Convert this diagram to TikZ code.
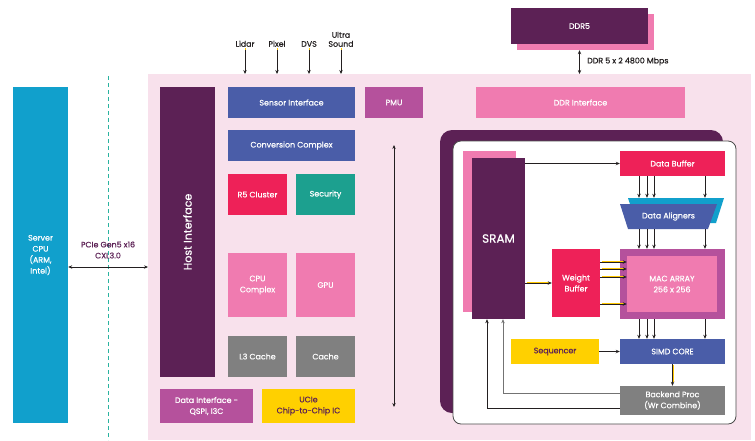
\documentclass[tikz,border=0pt]{standalone}
\usepackage{fontspec}
\setmainfont{Poppins}[FakeBold=0.6]
\usetikzlibrary{arrows.meta,calc}
\definecolor{dpurple}{HTML}{5C2155}
\definecolor{cblue}{HTML}{4A5DA8}
\definecolor{cred}{HTML}{EE2158}
\definecolor{cteal}{HTML}{1CA08F}
\definecolor{cpink}{HTML}{F07BB0}
\definecolor{cmag}{HTML}{B5519C}
\definecolor{cgray}{HTML}{808080}
\definecolor{cyellow}{HTML}{FFD000}
\definecolor{ccyan}{HTML}{11A0CC}
\definecolor{bgpink}{HTML}{F8E1EC}
\definecolor{dteal}{HTML}{2AB3A0}
\definecolor{ink}{HTML}{231F20}
\begin{document}
\begin{tikzpicture}[x=1pt,y=-1pt,
  font=\fontsize{7.9}{11}\selectfont,
  box/.style={rectangle, inner sep=1pt, align=center, text=white, anchor=center},
  lbl/.style={inner sep=1pt, align=center, text=ink},
  glow/.style={preaction={draw=cyellow!90!orange, line width=0.5pt, -, shorten >=3pt, shorten <=1pt, transform canvas={xshift=0.7pt,yshift=0.7pt}}},
  arr/.style={-{Stealth[length=4pt,width=3.4pt]}, line width=0.8pt, draw=ink, glow},
  darr/.style={{Stealth[length=4pt,width=3.4pt]}-{Stealth[length=4pt,width=3.4pt]}, line width=0.8pt, draw=ink}]
\useasboundingbox (0,0) rectangle (755,440);
% chip background
\node[fill=bgpink, minimum width=603pt, minimum height=366pt, inner sep=0, anchor=north west] (chip) at (148,74) {};
% dashed line
\coordinate (dla) at (108,76);
\coordinate (dlb) at (108,440);
\draw[dteal, line width=1pt, dash pattern=on 4pt off 3pt] (dla) -- (dlb);
% server cpu
\node[box, fill=ccyan, minimum width=55pt, minimum height=336pt] (cpu) at (40.5,255) {Server\\CPU\\(ARM,\\Intel)};
\node[lbl, text=dpurple] (pcie) at (108,250) {PCIe Gen5 x16\\CXL3.0};
\coordinate (py) at (0,267);
\draw[darr] (cpu.east |- py) -- (chip.west |- py);
% host interface
\node[box, fill=dpurple, minimum width=55pt, minimum height=290pt] (host) at (187.5,232) {};
\node[text=white, rotate=90, font=\fontsize{11}{13}\selectfont] (hostt) at (host.center) {Host Interface};
% left column blocks
\node[box, fill=cblue, minimum width=127pt, minimum height=31pt] (si) at (291.5,102.5) {Sensor Interface};
\node[box, fill=cblue, minimum width=127pt, minimum height=31pt] (cc) at (291.5,145.5) {Conversion Complex};
\node[box, fill=cred, minimum width=59pt, minimum height=41pt] (r5) at (257.5,194.5) {R5 Cluster};
\node[box, fill=cteal, minimum width=59pt, minimum height=41pt] (sec) at (325.5,194.5) {Security};
\node[box, fill=cpink, minimum width=59pt, minimum height=64pt] (cpuc) at (257.5,285) {CPU\\Complex};
\node[box, fill=cpink, minimum width=59pt, minimum height=64pt] (gpu) at (325.5,285) {GPU};
\node[box, fill=cgray, minimum width=59pt, minimum height=41pt] (l3) at (257.5,356.5) {L3 Cache};
\node[box, fill=cgray, minimum width=59pt, minimum height=41pt] (cache) at (325.5,356.5) {Cache};
\node[box, fill=cmag, minimum width=93pt, minimum height=34pt] (di) at (206.5,406) {Data Interface -\\QSPI, I3C};
\node[box, fill=cyellow, text=dpurple, minimum width=93pt, minimum height=34pt] (ucie) at (308.5,406) {UCIe\\Chip-to-Chip IC};
\node[box, fill=cmag, minimum width=58pt, minimum height=31pt] (pmu) at (394,102.5) {PMU};
\node[box, fill=cpink, minimum width=209pt, minimum height=31pt] (ddri) at (580.5,102.5) {DDR Interface};
% DDR5
\node[box, fill=cpink, minimum width=137pt, minimum height=36pt] (ddr5s) at (585.5,32) {};
\node[box, fill=dpurple, minimum width=137pt, minimum height=36pt] (ddr5) at (579.5,26) {DDR5};
\draw[darr] (ddr5.south |- ddr5s.south) -- (ddr5.south |- chip.north);
\node[lbl, anchor=west] (ddrl) at (586,61.5) {DDR 5 x 2 4800 Mbps};
% sensor inputs
\node[lbl, anchor=south] (lidar) at (245,48) {Lidar};
\node[lbl, anchor=south] (pixel) at (277,48) {Pixel};
\node[lbl, anchor=south] (dvs) at (309,48) {DVS};
\node[lbl, anchor=south, font=\fontsize{7.9}{9}\selectfont] (us) at (341,48) {Ultra\\Sound};
\foreach \s in {lidar,pixel,dvs,us}
  \draw[arr, shorten <=2pt] (\s.south) -- (\s.south |- chip.north);
% vertical double arrow
\coordinate (va) at (394,145);
\coordinate (vb) at (394,407);
\draw[darr] (va) -- (vb);
% accelerator
\draw[fill=dpurple, draw=none, rounded corners=12pt] (440,130) rectangle (723,413);
\draw[fill=white, draw=black!70, line width=0.8pt, rounded corners=8pt] (453,141) rectangle (736,424);
\node[box, fill=cpink, minimum width=53pt, minimum height=161pt] (srams) at (489.5,231.5) {};
\node[box, fill=dpurple, minimum width=53pt, minimum height=161pt, font=\fontsize{12}{14}\selectfont] (sram) at (498.5,238.5) {SRAM};
\node[box, fill=cred, minimum width=105pt, minimum height=25pt] (db) at (672.5,163.5) {Data Buffer};
\fill[ccyan] (628,198) -- (724,198) -- (716,223) -- (636,223) -- cycle;
\fill[cblue] (620,204) -- (717,204) -- (708,229) -- (628,229) -- cycle;
\node[box, minimum width=96pt, minimum height=25pt] (dacy) at (676,210.5) {};
\node[box, minimum width=97pt, minimum height=25pt] (dal) at (668.5,216.5) {Data Aligners};
\node[box, fill=cmag, minimum width=105pt, minimum height=70pt] (maco) at (672.5,284) {};
\node[box, fill=cpink, minimum width=90pt, minimum height=56pt] (maci) at (672,284) {MAC ARRAY\\256 x 256};
\node[box, fill=cred, minimum width=48pt, minimum height=68pt] (wb) at (576,283) {Weight\\Buffer};
\node[box, fill=cblue, minimum width=105pt, minimum height=25pt] (simd) at (672.5,351.5) {SIMD CORE};
\node[box, fill=cyellow, text=dpurple, minimum width=88pt, minimum height=25pt] (seq) at (555,351.5) {Sequencer};
\node[box, fill=cgray, minimum width=105pt, minimum height=29pt] (be) at (672.5,400.5) {Backend Proc\\(Wr Combine)};
% accelerator connectors
\draw[arr] (sram.east |- db.west) -- (db.west);
\draw[arr] (sram.east |- wb.west) -- (wb.west);
\foreach \yy in {262,269,277,304}
  \draw[arr] (wb.east |- 0,\yy) -- (maci.west |- 0,\yy);
\foreach \xx in {639,647,654,705} {
  \draw[arr] (db.south -| \xx,0) -- (dacy.north -| \xx,0);
  \draw[arr] (dal.south -| \xx,0) -- (maco.north -| \xx,0);
  \draw[arr] (maco.south -| \xx,0) -- (simd.north -| \xx,0);
}
\draw[arr] (seq.east) -- (simd.west);
\draw[arr] (simd.south) -- (be.north);
\draw[-{Stealth[length=4pt,width=3.4pt]}, line width=0.8pt, draw=cgray!90!black] (be.west |- 0,393) -| (sram.south -| 503,0);
\draw[-{Stealth[length=4pt,width=3.4pt]}, line width=0.8pt, draw=ink] (be.west |- 0,408) -| (sram.south -| 487,0);
\end{tikzpicture}
\end{document}
